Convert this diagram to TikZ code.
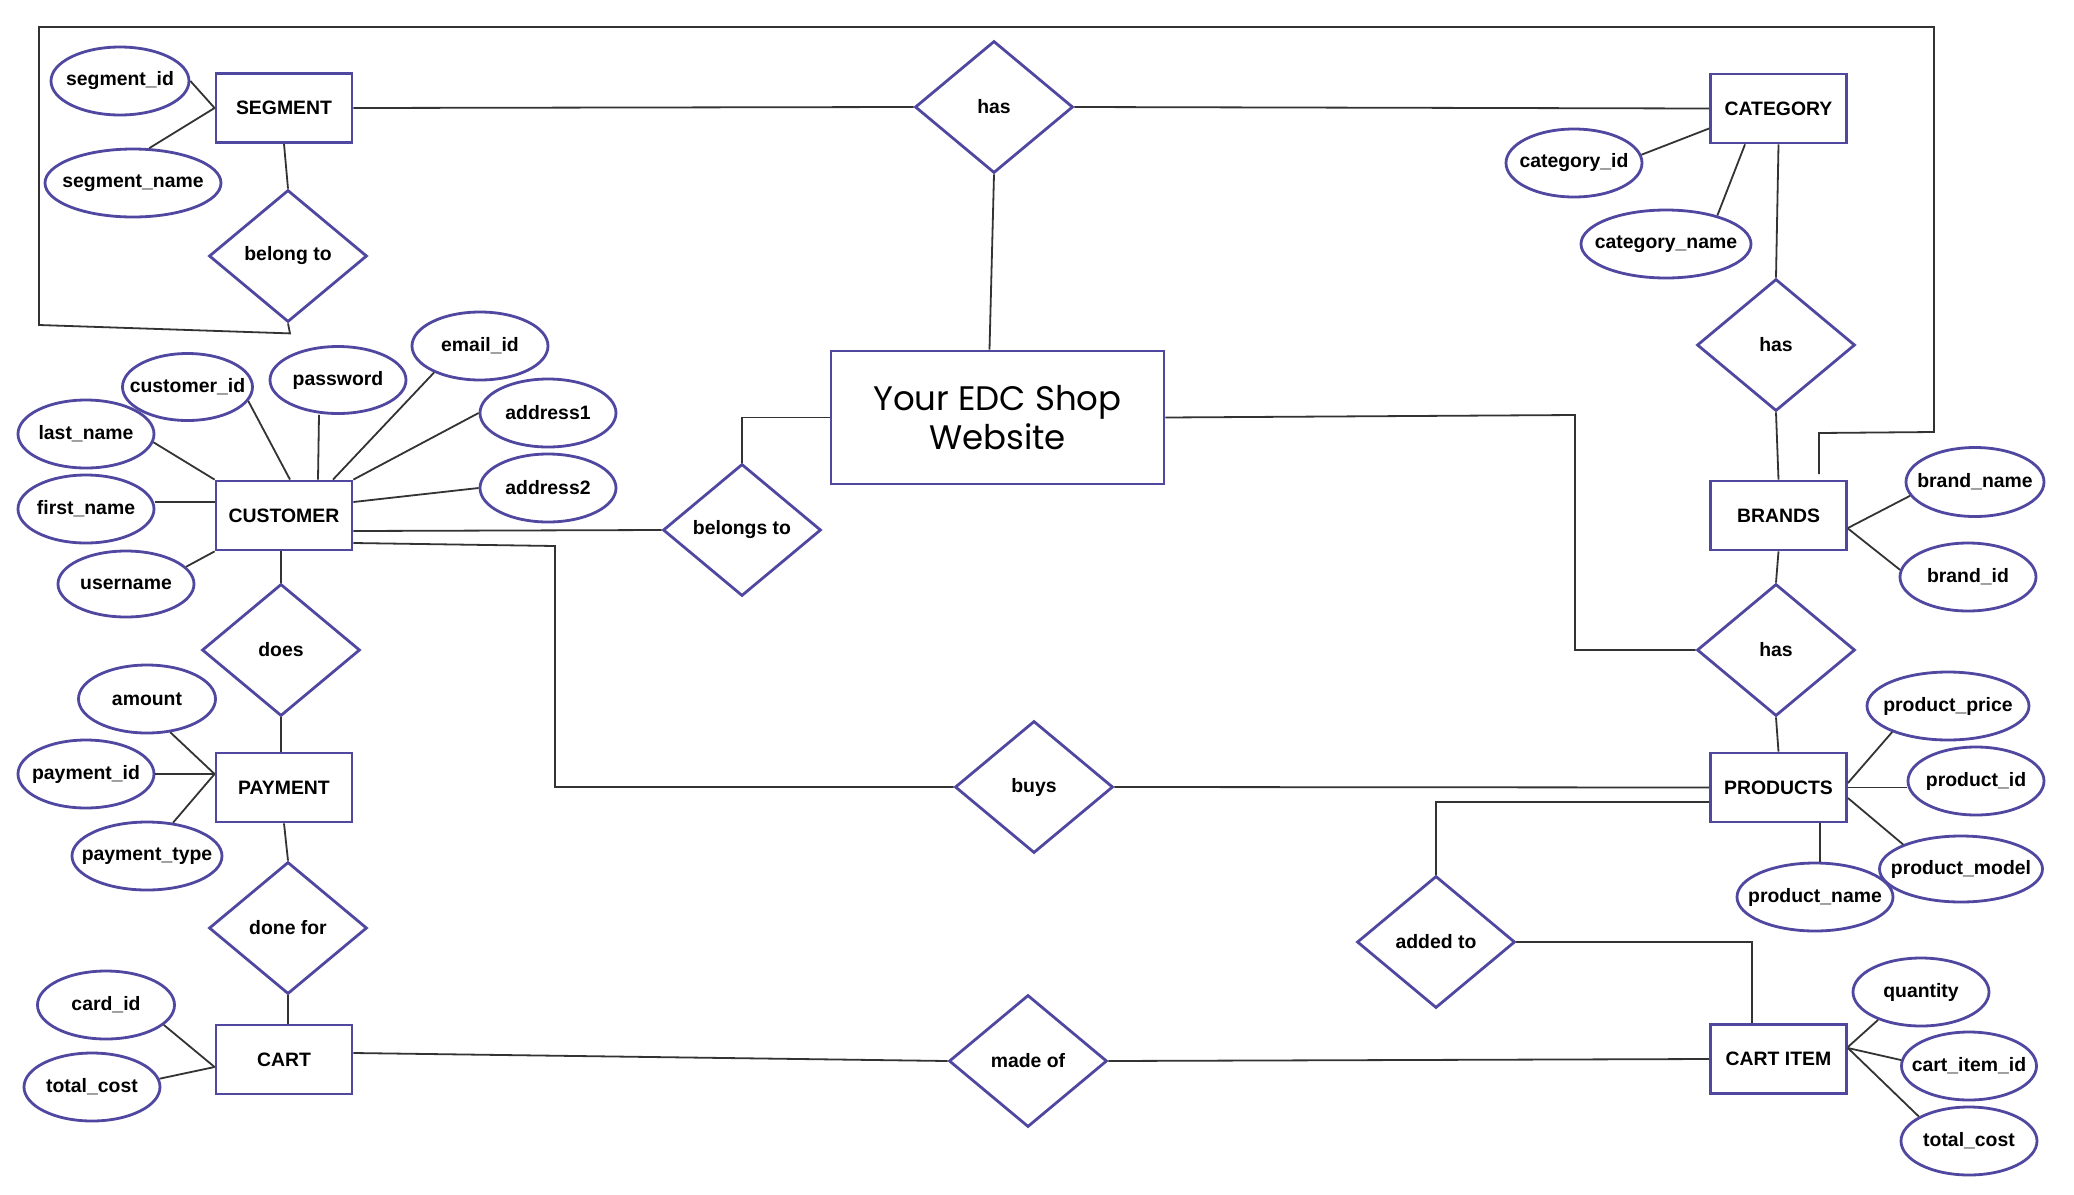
\documentclass[tikz,border=0pt]{standalone}
\usepackage{fontspec}
\setmainfont{Liberation Sans}
\newfontfamily\webfont{Poppins}
\usetikzlibrary{shapes.geometric,calc}
\definecolor{erpurple}{HTML}{5048A0}
\definecolor{erline}{HTML}{333333}
\newcommand{\zt}[1]{\makebox[0pt]{#1}}
\begin{document}
\begin{tikzpicture}[x=0.5pt,y=-0.5pt,
  lbl/.style={font=\bfseries\fontsize{9.7}{11}\selectfont},
  ent/.style={lbl,draw=erpurple,line width=1.4pt,fill=white,minimum width=68pt,minimum height=34.5pt,inner sep=0pt},
  attr/.style={lbl,ellipse,draw=erpurple,line width=1.4pt,minimum width=68pt,minimum height=34pt,inner sep=0pt},
  rel/.style={lbl,diamond,draw=erpurple,line width=1.4pt,fill=white,minimum width=79pt,minimum height=66pt,inner sep=0pt},
  webbox/.style={draw=erpurple,line width=1.4pt,fill=white,minimum width=166.5pt,minimum height=66.5pt,inner sep=0pt,align=center,font=\webfont\fontsize{17}{19.8}\selectfont},
  conn/.style={draw=erline,line width=0.9pt}]
\useasboundingbox (0,0) rectangle (2074,1195);
\fill[white] (0,0) rectangle (2074,1195);

% entities
\node[ent] (seg) at (284,108) {SEGMENT};
\node[ent] (cat) at (1778.5,108.5) {CATEGORY};
\node[ent] (cust) at (284,515.5) {CUSTOMER};
\node[ent] (brands) at (1778.5,515.5) {BRANDS};
\node[ent] (pay) at (284,787.5) {PAYMENT};
\node[ent] (prod) at (1778.5,787.5) {PRODUCTS};
\node[ent] (cart) at (284,1059.5) {CART};
\node[ent] (ci) at (1778.5,1059) {CART ITEM};
\node[webbox] (web) at (997.5,417.5) {Your EDC Shop\\Website};

% relationships
\node[rel] (belongto) at (288,256) {\zt{belong to}};
\node[rel] (hastop) at (994,107) {\zt{has}};
\node[rel] (hascb) at (1776,345) {\zt{has}};
\node[rel] (hasbp) at (1776,650) {\zt{has}};
\node[rel] (belongsto) at (742,530) {\zt{belongs to}};
\node[rel] (does) at (281,650) {\zt{does}};
\node[rel] (buys) at (1034,787) {\zt{buys}};
\node[rel] (donefor) at (288,928) {\zt{done for}};
\node[rel] (addedto) at (1436,942) {\zt{added to}};
\node[rel] (madeof) at (1028,1061) {\zt{made of}};

% attributes
\node[attr,minimum width=69pt] (segid) at (120,81) {\zt{segment\_id}};
\node[attr,minimum width=88pt] (segname) at (133,183) {\zt{segment\_name}};
\node[attr,minimum width=65pt,minimum height=33.5pt] (custid) at (187.5,387) {\zt{customer\_id}};
\node[attr,minimum height=33.5pt] (password) at (338,380) {\zt{password}};
\node[attr] (email) at (480,346) {\zt{email\_id}};
\node[attr] (lastname) at (86,434) {\zt{last\_name}};
\node[attr] (address1) at (548,413) {\zt{address1}};
\node[attr] (address2) at (548,488) {\zt{address2}};
\node[attr] (firstname) at (86,509) {\zt{first\_name}};
\node[attr,minimum height=33pt] (username) at (126,584) {\zt{username}};
\node[attr,minimum width=68.5pt] (amount) at (147,699) {\zt{amount}};
\node[attr] (payid) at (86,774) {\zt{payment\_id}};
\node[attr,minimum width=75pt] (paytype) at (147,856) {\zt{payment\_type}};
\node[attr,minimum width=68.5pt] (cardid) at (106,1005) {\zt{card\_id}};
\node[attr] (totalcost) at (92,1087) {\zt{total\_cost}};
\node[attr] (catid) at (1574,163) {\zt{category\_id}};
\node[attr,minimum width=85pt] (catname) at (1666,244) {\zt{category\_name}};
\node[attr,minimum width=69pt,minimum height=34.5pt] (brandname) at (1975,482) {\zt{brand\_name}};
\node[attr] (brandid) at (1968,577) {\zt{brand\_id}};
\node[attr,minimum width=81pt] (prodprice) at (1948,706) {\zt{product\_price}};
\node[attr] (prodid) at (1976,781) {\zt{product\_id}};
\node[attr,minimum width=81.5pt,minimum height=33pt] (prodmodel) at (1961,869) {\zt{product\_model}};
\node[attr,minimum width=78pt] (prodname) at (1815,897) {\zt{product\_name}};
\node[attr] (quantity) at (1921,992) {\zt{quantity}};
\node[attr,minimum width=67.5pt] (cartitemid) at (1969,1066) {\zt{cart\_item\_id}};
\node[attr] (totalcost2) at (1969,1141) {\zt{total\_cost}};

\coordinate (brandsgap) at (1819,474);

% connectors: segment
\draw[conn] (segid.east) -- (seg.west);
\draw[conn] (segname.65) -- (seg.west);
\draw[conn] (seg.south) -- (belongto.north);
\draw[conn] (belongto.south) -- ++(2,10) -- (39,325) -- (39,27) -- (1934,27) -- (1934,432) -- (1819,433) -- (brandsgap);
\draw[conn] (seg.east) -- (hastop.west);
\draw[conn] (hastop.east) -- (cat.west);
\draw[conn] (hastop.south) -- ([xshift=-4pt]web.north);

% category
\draw[conn] (catid.7) -- ([yshift=-10pt]cat.west);
\draw[conn] (catname.29) -- ([xshift=-16.75pt]cat.south);
\draw[conn] (cat.south) -- (hascb.north);
\draw[conn] (hascb.south) -- (brands.north);

% brands
\draw[conn] (brandname.192) -- ([yshift=-6.25pt]brands.east);
\draw[conn] (brandid.174) -- ([yshift=-6.5pt]brands.east);
\draw[conn] (brands.south) -- (hasbp.north);
\draw[conn] (hasbp.south) -- (prod.north);

% products
\draw[conn] (prodprice.205) -- ([yshift=2.25pt]prod.east);
\draw[conn] (prod.east) -- (prod.east -| prodid.west);
\draw[conn] (prodmodel.157) -- ([yshift=-5.25pt]prod.east);
\draw[conn] ([xshift=20.75pt]prod.south) coordinate (pns) -- (pns |- prodname.north);

% customer
\draw[conn] (lastname.-7) -- (cust.north west);
\draw[conn] (custid.-13.5) -- ([xshift=3pt]cust.north);
\draw[conn] ([xshift=-9.5pt]password.south) -- ([xshift=17pt]cust.north);
\draw[conn] (email.210) -- ([xshift=24.5pt]cust.north);
\draw[conn] (address1.west) -- (cust.north east);
\draw[conn] (address2.west) -- ([yshift=6.75pt]cust.east);
\draw[conn] ([yshift=6.75pt]cust.west) coordinate (fnc) -- (fnc -| firstname.east);
\draw[conn] (username.16) -- (cust.south west);
\draw[conn] (does.north |- cust.south) -- (does.north);
\draw[conn] (does.south) -- (does.south |- pay.north);
\draw[conn] ([yshift=-7.75pt]cust.east) -- (belongsto.west);
\draw[conn] (belongsto.north) |- (web.west);
\draw[conn] ([yshift=-13.75pt]cust.east) -- (555,546) |- (buys.west);
\draw[conn] (buys.east) -- (prod.west);
\draw[conn] (web.east) -- (1575,415) |- (hasbp.west);

% payment
\draw[conn] (amount.305) -- ([yshift=6.75pt]pay.west);
\draw[conn] (payid.east) -- ([yshift=6.75pt]pay.west);
\draw[conn] (paytype.52) -- ([yshift=6.75pt]pay.west);
\draw[conn] (pay.south) -- (donefor.north);
\draw[conn] (donefor.south) -- (donefor.south |- cart.north);

% cart
\draw[conn] (cardid.-19) -- ([yshift=-3.75pt]cart.west);
\draw[conn] (totalcost.7) -- ([yshift=-3.75pt]cart.west);
\draw[conn] ([yshift=3.25pt]cart.east) -- (madeof.west);
\draw[conn] (madeof.east) -- (ci.west);

% cart item
\draw[conn] (quantity.213) -- ([yshift=6pt]ci.east);
\draw[conn] (cartitemid.175) -- ([yshift=5.5pt]ci.east);
\draw[conn] (totalcost2.154) -- ([yshift=5.5pt]ci.east);
\draw[conn] ([yshift=-7.25pt]prod.west) -| (addedto.north);
\draw[conn] (addedto.east) -| ([xshift=-13.25pt]ci.north);
\end{tikzpicture}
\end{document}
